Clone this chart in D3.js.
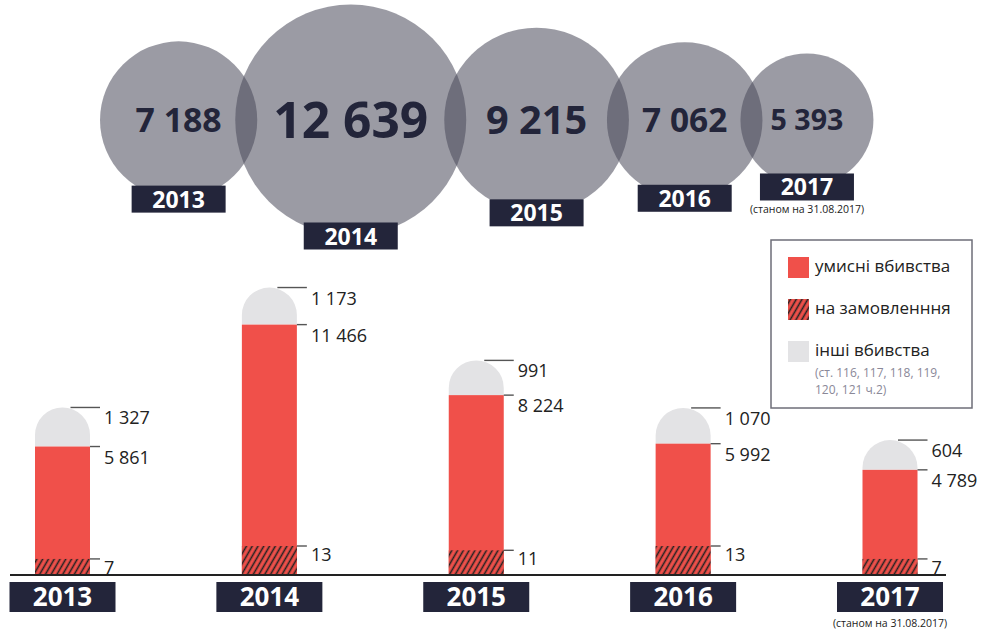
<!DOCTYPE html>
<html><head><meta charset="utf-8">
<script src="https://cdn.jsdelivr.net/npm/d3@7"></script>
<style>body{margin:0;background:#fff;overflow:hidden}</style>
</head><body><svg id="c" width="981" height="634"></svg>
<script>
// ---------- data ----------
const years = ["2013", "2014", "2015", "2016", "2017"];
const totals = [7188, 12639, 9215, 7062, 5393];
const intentional = [5861, 11466, 8224, 5992, 4789];
const contract = [7, 13, 11, 13, 7];
const other = [1327, 1173, 991, 1070, 604];
const legendLabels = ["умисні вбивства", "на замовленння", "інші вбивства"];
const legendNote = ["(ст. 116, 117, 118, 119,", "120, 121 ч.2)"];
const dateNote = "(станом на 31.08.2017)";
const noteYear = "2017";

// ---------- styles ----------
const NAVY = "#23253a", RED = "#f0504a", CAP = "#e3e3e5", INK = "#222";
const FONT = "'Open Sans', 'Noto Sans', sans-serif";
const fmt = d3.formatLocale({decimal: ",", thousands: " ", grouping: [3], currency: ["", ""]}).format(",d");

const svg = d3.select("#c").style("font-family", FONT);
const defs = svg.append("defs");
const pat = defs.append("pattern").attr("id", "hatch").attr("patternUnits", "userSpaceOnUse")
  .attr("width", 5).attr("height", 5).attr("patternTransform", "rotate(30)");
pat.append("rect").attr("width", 5).attr("height", 5).attr("fill", RED);
pat.append("line").attr("x1", 1.5).attr("y1", 0).attr("x2", 1.5).attr("y2", 5)
  .attr("stroke", INK).attr("stroke-width", 1.6);

// ---------- top bubbles ----------
const rScale = d3.scaleLinear().domain([0, 12639]).range([30, 115.5]);
const bubbleCY = 120, bubbleStart = 100, overlap = 22;
const bubbles = [];
let prev = null;
years.forEach((y, i) => {
  const r = rScale(totals[i]);
  const cx = prev ? prev.cx + prev.r + r - overlap : bubbleStart + r;
  const b = {year: y, value: totals[i], r, cx};
  bubbles.push(b); prev = b;
});
const gB = svg.append("g");
gB.selectAll("circle").data(bubbles).join("circle")
  .attr("cx", d => d.cx).attr("cy", bubbleCY).attr("r", d => d.r)
  .attr("fill", "#49485a").attr("fill-opacity", 0.55);
gB.selectAll("text.val").data(bubbles).join("text").attr("class", "val")
  .attr("x", d => d.cx).attr("y", d => bubbleCY + d.r * 0.43 * 0.36)
  .attr("text-anchor", "middle").attr("font-weight", 700)
  .attr("font-size", d => d.r * 0.43).attr("fill", NAVY)
  .text(d => fmt(d.value));
const bw = 94, bh = 27;
gB.selectAll("rect.yb").data(bubbles).join("rect").attr("class", "yb")
  .attr("x", d => d.cx - bw / 2).attr("y", d => bubbleCY + d.r - 13)
  .attr("width", bw).attr("height", bh).attr("fill", NAVY);
gB.selectAll("text.yt").data(bubbles).join("text").attr("class", "yt")
  .attr("x", d => d.cx).attr("y", d => bubbleCY + d.r - 13 + bh / 2 + 8.5)
  .attr("text-anchor", "middle").attr("font-weight", 700).attr("font-size", 23)
  .attr("fill", "#fff").text(d => d.year);
const nb = bubbles.find(d => d.year === noteYear);
gB.append("text").attr("x", nb.cx).attr("y", bubbleCY + nb.r - 13 + bh + 13)
  .attr("text-anchor", "middle").attr("font-size", 10.5).attr("fill", INK)
  .text(dateNote);

// ---------- bars ----------
const base = 574;
const x = d3.scalePoint().domain(years).range([62.5, 890]);
const y = d3.scaleLinear().domain([0, 12000]).range([base, base - 261]);
const capH = d3.scaleLinear().domain([0, 1400]).range([22, 40]);
const hatchH = d3.scaleLinear().domain([0, 13]).range([0, 28]);
const barW = 55;
const bars = years.map((yr, i) => {
  const cx = x(yr), x0 = cx - barW / 2, x1 = cx + barW / 2;
  const redTop = y(intentional[i]);
  const capTop = redTop - capH(other[i]);
  const hatchTop = base - hatchH(contract[i]);
  return {yr, i, cx, x0, x1, redTop, capTop, hatchTop};
});
const gBar = svg.append("g");
gBar.selectAll("path.cap").data(bars).join("path").attr("class", "cap")
  .attr("fill", CAP)
  .attr("d", d => {
    const h = d.redTop - d.capTop, rr = Math.min(barW / 2, h);
    return `M${d.x0},${d.redTop}L${d.x0},${d.capTop + rr}A${rr},${rr} 0 0 1 ${d.x0 + rr},${d.capTop}` +
      `L${d.x1 - rr},${d.capTop}A${rr},${rr} 0 0 1 ${d.x1},${d.capTop + rr}L${d.x1},${d.redTop}Z`;
  });
gBar.selectAll("rect.red").data(bars).join("rect").attr("class", "red")
  .attr("x", d => d.x0).attr("y", d => d.redTop).attr("width", barW)
  .attr("height", d => base - d.redTop).attr("fill", RED);
gBar.selectAll("rect.hatch").data(bars).join("rect").attr("class", "hatch")
  .attr("x", d => d.x0).attr("y", d => d.hatchTop).attr("width", barW)
  .attr("height", d => base - d.hatchTop).attr("fill", "url(#hatch)");

// ticks and labels
const labels = [];
bars.forEach(d => {
  labels.push({x1: d.cx + 8, x2: d.x1 + 10, yy: d.capTop, tx: d.x1 + 14, ty: d.capTop + 17, t: fmt(other[d.i])});
  labels.push({x1: d.x1, x2: d.x1 + 10, yy: d.redTop, tx: d.x1 + 14, ty: d.redTop + 17, t: fmt(intentional[d.i])});
  labels.push({x1: d.x1, x2: d.x1 + 10, yy: d.hatchTop, tx: d.x1 + 14, ty: d.hatchTop + 15, t: fmt(contract[d.i])});
});
gBar.selectAll("line.tk").data(labels).join("line").attr("class", "tk")
  .attr("x1", d => d.x1).attr("x2", d => d.x2).attr("y1", d => d.yy).attr("y2", d => d.yy)
  .attr("stroke", "#555").attr("stroke-width", 1.4);
gBar.selectAll("text.lb").data(labels).join("text").attr("class", "lb")
  .attr("x", d => d.tx).attr("y", d => d.ty).attr("font-size", 18).attr("fill", INK)
  .text(d => d.t);

// baseline
svg.append("line").attr("x1", 10).attr("x2", 946).attr("y1", base + 1).attr("y2", base + 1)
  .attr("stroke", INK).attr("stroke-width", 2);

// bottom year boxes
const ybw = 106, ybh = 30, ybTop = 582;
svg.selectAll("rect.by").data(years).join("rect").attr("class", "by")
  .attr("x", d => x(d) - ybw / 2).attr("y", ybTop).attr("width", ybw).attr("height", ybh)
  .attr("fill", NAVY);
svg.selectAll("text.by").data(years).join("text").attr("class", "by")
  .attr("x", d => x(d)).attr("y", ybTop + 24).attr("text-anchor", "middle")
  .attr("font-size", 26).attr("font-weight", 700).attr("fill", "#fff").text(d => d);
svg.append("text").attr("x", x(noteYear)).attr("y", 627).attr("text-anchor", "middle")
  .attr("font-size", 10.5).attr("fill", INK).text(dateNote);

// ---------- legend ----------
const lg = svg.append("g").attr("transform", "translate(771,240)");
lg.append("rect").attr("x", 0).attr("y", 0).attr("width", 201).attr("height", 168)
  .attr("fill", "#fff").attr("stroke", "#6e6e78").attr("stroke-width", 1.5);
const swFill = [RED, "url(#hatch)", CAP];
const lgRows = legendLabels.map((t, i) => ({t, fill: swFill[i], yy: 17 + i * 42}));
lg.selectAll("rect.sw").data(lgRows).join("rect").attr("class", "sw")
  .attr("x", 17).attr("y", d => d.yy).attr("width", 21).attr("height", 21).attr("fill", d => d.fill);
lg.selectAll("text.lt").data(lgRows).join("text").attr("class", "lt")
  .attr("x", 44).attr("y", d => d.yy + 15).attr("font-size", 17).attr("fill", INK).text(d => d.t);
lg.selectAll("text.ln").data(legendNote).join("text").attr("class", "ln")
  .attr("x", 44).attr("y", (d, i) => 137 + i * 17).attr("font-size", 12).attr("fill", "#8a8898")
  .text(d => d);
</script></body></html>
